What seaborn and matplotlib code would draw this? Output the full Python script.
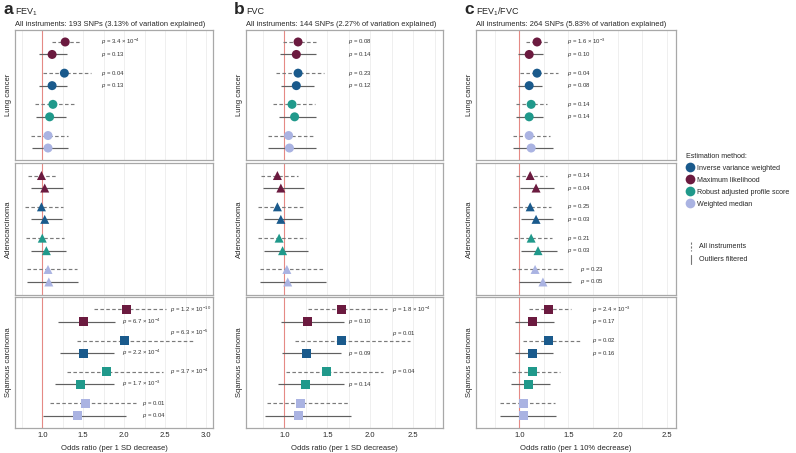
import numpy as np
import pandas as pd
import matplotlib
matplotlib.use("Agg")
import matplotlib.pyplot as plt
import seaborn as sns
from matplotlib.lines import Line2D

# Categories
methods = ["Maximum likelihood", "Inverse variance weighted",
           "Robust adjusted profile score", "Weighted median"]
legend_order = ["Inverse variance weighted", "Maximum likelihood",
                "Robust adjusted profile score", "Weighted median"]
instruments = ["All instruments", "Outliers filtered"]
cancers = ["Lung cancer", "Adenocarcinoma", "Sqamous carcinoma"]

# Each cancer block: ML all, ML filtered, IVW all, IVW filtered, RAPS all, RAPS filtered, WM all, WM filtered
fev1_or = [1.28, 1.12, 1.27, 1.12, 1.13, 1.09, 1.07, 1.07,
           0.99, 1.03, 0.99, 1.03, 1.00, 1.05, 1.07, 1.08,
           2.03, 1.50, 2.01, 1.50, 1.79, 1.47, 1.53, 1.43]
fev1_lo = [1.12, 0.96, 1.01, 0.96, 0.91, 0.92, 0.86, 0.87,
           0.83, 0.86, 0.79, 0.86, 0.80, 0.86, 0.81, 0.81,
           1.63, 1.19, 1.43, 1.22, 1.30, 1.16, 1.09, 1.01]
fev1_hi = [1.46, 1.30, 1.59, 1.30, 1.40, 1.29, 1.32, 1.31,
           1.18, 1.25, 1.25, 1.24, 1.26, 1.29, 1.42, 1.44,
           2.51, 1.89, 2.84, 1.87, 2.48, 1.87, 2.15, 2.02]
fev1_p = ["3.4e-4", "0.13", "0.04", "0.13", "", "", "", "",
          "", "", "", "", "", "", "", "",
          "1.2e-10", "6.7e-4", "6.3e-5", "2.2e-4", "3.7e-4", "1.7e-3", "0.01", "0.04"]

fvc_or = [1.16, 1.14, 1.16, 1.14, 1.09, 1.12, 1.05, 1.06,
          0.92, 0.96, 0.92, 0.96, 0.94, 0.98, 1.03, 1.04,
          1.67, 1.27, 1.66, 1.26, 1.49, 1.25, 1.19, 1.17]
fvc_lo = [0.98, 0.95, 0.90, 0.96, 0.87, 0.94, 0.81, 0.81,
          0.73, 0.75, 0.69, 0.76, 0.70, 0.76, 0.72, 0.72,
          1.28, 0.96, 1.12, 0.97, 1.02, 0.93, 0.80, 0.78]
fvc_hi = [1.37, 1.37, 1.46, 1.34, 1.36, 1.37, 1.34, 1.37,
          1.16, 1.23, 1.23, 1.21, 1.25, 1.27, 1.45, 1.49,
          2.19, 1.69, 2.46, 1.66, 2.15, 1.69, 1.75, 1.77]
fvc_p = ["0.08", "0.14", "0.23", "0.12", "", "", "", "",
         "", "", "", "", "", "", "", "",
         "1.8e-4", "0.10", "0.01", "0.09", "0.04", "0.14", "", ""]

ratio_or = [1.18, 1.10, 1.18, 1.10, 1.12, 1.10, 1.10, 1.12,
            1.11, 1.17, 1.11, 1.17, 1.12, 1.19, 1.16, 1.24,
            1.30, 1.13, 1.30, 1.13, 1.13, 1.09, 1.04, 1.04]
ratio_lo = [1.07, 0.99, 1.01, 0.99, 0.97, 0.97, 0.93, 0.94,
            0.97, 1.01, 0.94, 1.02, 0.95, 1.02, 0.92, 1.00,
            1.10, 0.96, 1.04, 0.96, 0.92, 0.91, 0.80, 0.80]
ratio_hi = [1.30, 1.24, 1.39, 1.23, 1.28, 1.24, 1.31, 1.34,
            1.28, 1.35, 1.32, 1.34, 1.33, 1.38, 1.46, 1.53,
            1.53, 1.35, 1.62, 1.34, 1.41, 1.31, 1.36, 1.37]
ratio_p = ["1.6e-3", "0.10", "0.04", "0.08", "0.14", "0.14", "", "",
           "0.14", "0.04", "0.25", "0.03", "0.21", "0.03", "0.23", "0.05",
           "2.4e-3", "0.17", "0.02", "0.16", "", "", "", ""]

# where the p-value labels sit (x in odds-ratio units)
fev1_px = [1.72] * 8 + [None] * 8 + [2.56, 1.97, 2.56, 1.97, 2.56, 1.97, 2.22, 2.22]
fvc_px = [1.74] * 8 + [None] * 8 + [2.25, 1.74, 2.25, 1.74, 2.25, 1.74, None, None]
ratio_px = [1.49] * 8 + [1.49] * 6 + [1.62, 1.62] + [1.745] * 8

method_colors = {"Maximum likelihood": "#6b1a3f",
                 "Inverse variance weighted": "#1a5a8c",
                 "Robust adjusted profile score": "#20998b",
                 "Weighted median": "#aab3e2"}
cancer_markers = {"Lung cancer": "o", "Adenocarcinoma": "^", "Sqamous carcinoma": "s"}

sns.set_style("white")
plt.rcParams["font.family"] = ["Liberation Sans", "DejaVu Sans"]
plt.rcParams["mathtext.fontset"] = "custom"
plt.rcParams["mathtext.rm"] = "Liberation Sans"
plt.rcParams["mathtext.it"] = "Liberation Sans:italic"
plt.rcParams["mathtext.bf"] = "Liberation Sans:bold"

W, H = 796, 453


def make_df(or_, lo, hi, p, px):
    rows = []
    for i in range(len(or_)):
        r = i % 8
        rows.append({"cancer": cancers[i // 8], "method": methods[r // 2],
                     "instrument": instruments[r % 2], "or": or_[i], "lo": lo[i],
                     "hi": hi[i], "p": p[i], "px": px[i],
                     "y": (r // 2) * 2.5 + r % 2})
    return pd.DataFrame(rows)


def fmt_p(s):
    if "e" in s:
        m, e = s.split("e")
        return r"$p$ = " + m + " \u00d7 10$^{" + str(int(e)) + "}$"
    return r"$p$ = " + s


panels = [
    dict(letter="a", title="FEV$_1$",
         sub="All instruments: 193 SNPs (3.13% of variation explained)",
         df=make_df(fev1_or, fev1_lo, fev1_hi, fev1_p, fev1_px),
         x0=15, x1=213, xlim=(0.667, 3.085), ticks=[1.0, 1.5, 2.0, 2.5, 3.0],
         xlabel="Odds ratio (per 1 SD decrease)"),
    dict(letter="b", title="FVC",
         sub="All instruments: 144 SNPs (2.27% of variation explained)",
         df=make_df(fvc_or, fvc_lo, fvc_hi, fvc_p, fvc_px),
         x0=246, x1=443, xlim=(0.555, 2.845), ticks=[1.0, 1.5, 2.0, 2.5],
         xlabel="Odds ratio (per 1 SD decrease)"),
    dict(letter="c", title="FEV$_1$/FVC",
         sub="All instruments: 264 SNPs (5.83% of variation explained)",
         df=make_df(ratio_or, ratio_lo, ratio_hi, ratio_p, ratio_px),
         x0=476, x1=676, xlim=(0.558, 2.596), ticks=[1.0, 1.5, 2.0, 2.5],
         xlabel="Odds ratio (per 1 10% decrease)"),
]
facet_y = [(29.5, 160.5), (163, 294.5), (297, 428)]

fig = plt.figure(figsize=(W / 100, H / 100), dpi=100)

for pan in panels:
    df = pan["df"]
    fig.text((pan["x0"] - 12) / W, 1 - 10 / H, pan["letter"], fontsize=12.5,
             fontweight="bold", va="center", ha="left")
    fig.text(pan["x0"] / W, 1 - 12 / H, pan["title"], fontsize=6.5, va="center")
    fig.text(pan["x0"] / W, 1 - 24 / H, pan["sub"], fontsize=5.4, va="center")
    for j, cancer in enumerate(cancers):
        y0, y1 = facet_y[j]
        ax = fig.add_axes([pan["x0"] / W, 1 - y1 / H, (pan["x1"] - pan["x0"]) / W, (y1 - y0) / H])
        sub = df[df["cancer"] == cancer]
        ax.axvline(1.0, color="#e58a85", lw=0.8, zorder=1.5)
        for _, r in sub.iterrows():
            dashed = r["instrument"] == "All instruments"
            ax.hlines(r["y"], r["lo"], r["hi"], colors="#7a7a7a" if dashed else "#606060",
                      linestyles=(0, (3, 2)) if dashed else "solid", lw=0.85, zorder=2)
            if r["p"]:
                ly = r["y"]
                if r["hi"] > r["px"] - 0.03:
                    ly -= 0.6
                ax.text(r["px"], ly, fmt_p(r["p"]), fontsize=4.3, color="#333333",
                        va="center", ha="left")
        sns.scatterplot(data=sub, x="or", y="y", hue="method", palette=method_colors,
                        marker=cancer_markers[cancer], s=42, edgecolor="none",
                        legend=False, ax=ax, zorder=3)
        ax.set_xlim(*pan["xlim"])
        ax.set_ylim(9.5, -1.0)
        ax.set_yticks([])
        ax.set_xticks(pan["ticks"])
        ax.set_xticks(np.arange(0.75, pan["xlim"][1], 0.25), minor=True)
        ax.grid(axis="x", which="both", color="#ececec", lw=0.6)
        ax.set_axisbelow(True)
        ax.tick_params(axis="x", which="both", length=0, labelsize=5.5, pad=3,
                       labelbottom=(j == 2))
        ax.set_ylabel(cancer, fontsize=5.5, labelpad=2)
        ax.set_xlabel(pan["xlabel"] if j == 2 else "", fontsize=5.5, labelpad=4)
        for s in ax.spines.values():
            s.set_color("#a8a8a8")
            s.set_linewidth(0.9)

handles = [Line2D([], [], marker="o", ls="", markerfacecolor=method_colors[m],
                  markeredgecolor="none", markersize=7, label=m) for m in legend_order]
fig.legend(handles=handles, loc="upper left", bbox_to_anchor=(686 / W, 1 - 153 / H),
           frameon=False, title="Estimation method:", fontsize=5.1, title_fontsize=5.1,
           alignment="left", handletextpad=0.55, labelspacing=0.7, borderaxespad=0,
           handlelength=1.0, borderpad=0)

# line type key
for k, (lab, ls) in enumerate([("All instruments", (0, (2, 1.5))), ("Outliers filtered", "solid")]):
    yc = 247 + k * 12.5
    fig.add_artist(Line2D([691 / W, 691 / W], [1 - (yc - 4.5) / H, 1 - (yc + 4.5) / H],
                          transform=fig.transFigure, color="#777777", lw=0.8, ls=ls))
    fig.text(699 / W, 1 - yc / H, lab, fontsize=5.1, va="center")

fig.savefig("out.png", dpi=100)
